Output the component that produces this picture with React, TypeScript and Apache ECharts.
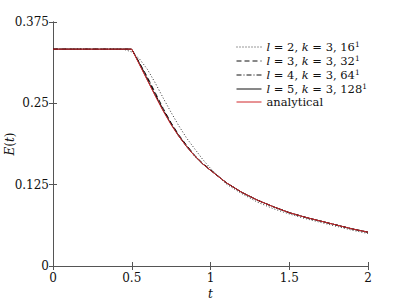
import React, { useEffect, useRef } from "react";
import * as echarts from "echarts";

const tValues = [0, 0.45, 0.5, 0.55, 0.6, 0.65, 0.7, 0.75, 0.8, 0.85, 0.9, 0.95, 1.0, 1.1, 1.2, 1.3, 1.4, 1.5, 1.6, 1.7, 1.8, 1.9, 2.0];

const eL2 = [0.3333, 0.333, 0.329, 0.318, 0.302, 0.281, 0.258, 0.236, 0.215, 0.196, 0.18, 0.164, 0.15, 0.126, 0.111, 0.098, 0.088, 0.08, 0.073, 0.067, 0.061, 0.055, 0.05];
const eL3 = [0.3333, 0.3333, 0.3333, 0.312, 0.29, 0.266, 0.242, 0.22, 0.201, 0.185, 0.17, 0.158, 0.148, 0.128, 0.113, 0.101, 0.091, 0.082, 0.075, 0.069, 0.063, 0.057, 0.052];
const eL4 = [0.3333, 0.3333, 0.3333, 0.311, 0.288, 0.264, 0.24, 0.219, 0.2, 0.184, 0.169, 0.157, 0.147, 0.128, 0.113, 0.101, 0.091, 0.082, 0.075, 0.069, 0.063, 0.057, 0.052];
const eL5 = [0.3333, 0.3333, 0.3333, 0.31, 0.286, 0.262, 0.239, 0.218, 0.199, 0.183, 0.169, 0.157, 0.147, 0.128, 0.113, 0.101, 0.091, 0.082, 0.075, 0.069, 0.063, 0.057, 0.052];
const eAnalytical = [0.3333, 0.3333, 0.3333, 0.309, 0.285, 0.261, 0.238, 0.217, 0.199, 0.183, 0.169, 0.157, 0.147, 0.128, 0.113, 0.101, 0.091, 0.082, 0.075, 0.069, 0.063, 0.057, 0.052];

const seriesNames = ["l2", "l3", "l4", "l5", "analytical"];
const legendLabels: Record<string, string> = {
  l2: "{i|l} = 2, {i|k} = 3, 16{s|1}",
  l3: "{i|l} = 3, {i|k} = 3, 32{s|1}",
  l4: "{i|l} = 4, {i|k} = 3, 64{s|1}",
  l5: "{i|l} = 5, {i|k} = 3, 128{s|1}",
  analytical: "analytical",
};

const FONT = "DejaVu Serif";
const AXIS_COLOR = "#555555";

export default function App() {
  const ref = useRef<HTMLDivElement>(null);
  useEffect(() => {
    if (!ref.current) return;
    const chart = echarts.init(ref.current, undefined, { renderer: "svg" });
    const toData = (arr: number[]) => tValues.map((t, i) => [t, arr[i]]);
    const styles: any[] = [
      { color: "#333333", type: [1, 2], width: 1 },
      { color: "#111111", type: [5, 3], width: 1 },
      { color: "#111111", type: [5, 2, 1, 2], width: 1 },
      { color: "#111111", type: "solid", width: 1 },
      { color: "#d0262b", type: "solid", width: 1 },
    ];
    const datas = [eL2, eL3, eL4, eL5, eAnalytical];
    const rich = {
      i: { fontStyle: "italic", fontFamily: FONT, fontSize: 11.5, color: "#111" },
      s: { fontFamily: FONT, fontSize: 7.5, color: "#111", verticalAlign: "top", lineHeight: 14 },
    };
    const richName = {
      i: { fontStyle: "italic", fontFamily: FONT, fontSize: 12, color: "#111" },
    };
    const axisCommon = {
      axisLine: { show: true, lineStyle: { color: AXIS_COLOR, width: 1 } },
      axisTick: { show: true, inside: true, length: 4, lineStyle: { color: AXIS_COLOR } },
      splitLine: { show: false },
    };
    chart.setOption({
      animation: false,
      textStyle: { fontFamily: FONT },
      grid: { left: 53, right: 39, top: 22, bottom: 40, containLabel: false, outerBoundsMode: "none" },
      legend: {
        orient: "vertical",
        left: 231,
        top: 35,
        itemWidth: 25,
        itemHeight: 14,
        itemGap: 1,
        data: seriesNames,
        itemStyle: { opacity: 0 },
        lineStyle: { width: 1 },
        formatter: (name: string) => legendLabels[name],
        textStyle: { fontFamily: FONT, fontSize: 11.5, color: "#111", rich },
      },
      xAxis: [
        {
          type: "value",
          min: 0,
          max: 2,
          interval: 0.5,
          ...axisCommon,
          axisLabel: { fontFamily: FONT, fontSize: 12, color: "#111", margin: 6 },
          name: "{i|t}",
          nameLocation: "middle",
          nameGap: 22,
          nameMoveOverlap: false,
          nameTextStyle: { fontFamily: FONT, fontSize: 12, color: "#111", rich: richName },
        },
        {
          type: "value",
          position: "top",
          min: 0,
          max: 2,
          interval: 0.5,
          ...axisCommon,
          axisLabel: { show: false },
        },
      ],
      yAxis: [
        {
          type: "value",
          min: 0,
          max: 0.375,
          interval: 0.125,
          ...axisCommon,
          axisLabel: { fontFamily: FONT, fontSize: 12, color: "#111", margin: 4 },
          name: "{i|E}({i|t})",
          nameLocation: "middle",
          nameGap: 37,
          nameRotate: 90,
          nameMoveOverlap: false,
          nameTextStyle: { fontFamily: FONT, fontSize: 12, color: "#111", rich: richName },
        },
        {
          type: "value",
          position: "right",
          min: 0,
          max: 0.375,
          interval: 0.125,
          ...axisCommon,
          axisLabel: { show: false },
        },
      ],
      series: seriesNames.map((n, k) => ({
        name: n,
        type: "line",
        xAxisIndex: 0,
        yAxisIndex: 0,
        symbol: "none",
        color: styles[k].color,
        data: toData(datas[k]),
        lineStyle: styles[k],
        itemStyle: { color: styles[k].color },
        z: 2 + k,
      })),
    });
    return () => chart.dispose();
  }, []);
  return <div ref={ref} style={{ position: "absolute", left: 0, top: 0, width: 407, height: 306 }} />;
}
